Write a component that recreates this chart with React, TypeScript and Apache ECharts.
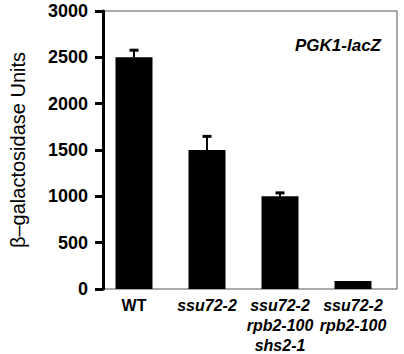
import React, { useEffect, useRef } from "react";
import * as echarts from "echarts";

const categories = ["WT", "ssu72-2", "ssu72-2\nrpb2-100\nshs2-1", "ssu72-2\nrpb2-100"];
const values = [2500, 1500, 1000, 85];
const errors = [90, 160, 50, 0];
const yTicks = { min: 0, max: 3000, interval: 500 };
const yTitle = "β–galactosidase Units";
const panelTitle = "PGK1-lacZ";

const FONT = "'Liberation Sans', Arial, Helvetica, sans-serif";

export default function App() {
  const ref = useRef<HTMLDivElement>(null);
  useEffect(() => {
    if (!ref.current) return;
    const chart = echarts.init(ref.current, null, { renderer: "svg" });
    const errData = values.map((v, i) => [i, v, v + errors[i]]);
    chart.setOption({
      animation: false,
      backgroundColor: "#fff",
      title: {
        text: panelTitle,
        right: 18,
        top: 32,
        textStyle: { fontFamily: FONT, fontSize: 17, fontWeight: "bold", fontStyle: "italic", color: "#000" },
      },
      grid: [
        { left: 89, right: 7, top: 11, bottom: 65, show: true, borderColor: "#555", borderWidth: 1, backgroundColor: "transparent" },
        { left: 97.5, right: 14.5, top: 11, bottom: 65 },
      ],
      xAxis: [
        { type: "value", gridIndex: 0, min: 0, max: 1, show: false },
        {
          type: "category",
          gridIndex: 1,
          data: categories,
          axisLine: { show: false },
          axisTick: { show: false },
          axisLabel: {
            margin: 6,
            interval: 0,
            formatter: (val: string) => {
              const tag = val === "WT" ? "n" : "i";
              return val.split("\n").map((l) => `{${tag}|${l}}`).join("\n");
            },
            rich: {
              n: { fontFamily: FONT, fontSize: 16, fontWeight: "bold", color: "#000", lineHeight: 20 },
              i: { fontFamily: FONT, fontSize: 16, fontWeight: "bold", fontStyle: "italic", color: "#000", lineHeight: 20 },
            },
          },
        },
      ],
      yAxis: [
        {
          type: "value",
          gridIndex: 0,
          min: yTicks.min,
          max: yTicks.max,
          interval: yTicks.interval,
          name: yTitle,
          nameLocation: "middle",
          nameGap: 75,
          nameTextStyle: { fontFamily: FONT, fontSize: 20, color: "#000" },
          axisLine: { show: true, lineStyle: { color: "#000", width: 3 } },
          axisTick: { show: true, length: 8, lineStyle: { color: "#000", width: 3 } },
          axisLabel: {
            margin: 15,
            fontFamily: FONT,
            fontSize: 18,
            fontWeight: "bold",
            color: "#000",
            formatter: (v: number) => String(v),
          },
          splitLine: { show: false },
        },
        { type: "value", gridIndex: 1, min: yTicks.min, max: yTicks.max, show: false, splitLine: { show: false } },
      ],
      series: [
        {
          type: "bar",
          xAxisIndex: 1,
          yAxisIndex: 1,
          data: values,
          barWidth: 37,
          itemStyle: { color: "#000" },
          z: 2,
        },
        {
          type: "custom",
          xAxisIndex: 1,
          yAxisIndex: 1,
          data: errData,
          z: 3,
          renderItem: (params: any, api: any) => {
            const i = api.value(0);
            const base = api.coord([i, api.value(1)]);
            const top = api.coord([i, api.value(2)]);
            if (Math.abs(base[1] - top[1]) < 1) return { type: "group", children: [] };
            return {
              type: "group",
              children: [
                { type: "line", shape: { x1: base[0], y1: base[1], x2: top[0], y2: top[1] }, style: { stroke: "#000", lineWidth: 2 } },
                { type: "line", shape: { x1: top[0] - 4.5, y1: top[1] + 1.2, x2: top[0] + 4.5, y2: top[1] + 1.2 }, style: { stroke: "#000", lineWidth: 3 } },
              ],
            };
          },
        },
      ],
    });
    return () => chart.dispose();
  }, []);
  return <div ref={ref} style={{ position: "fixed", left: 0, top: 0, width: 404, height: 354 }} />;
}
